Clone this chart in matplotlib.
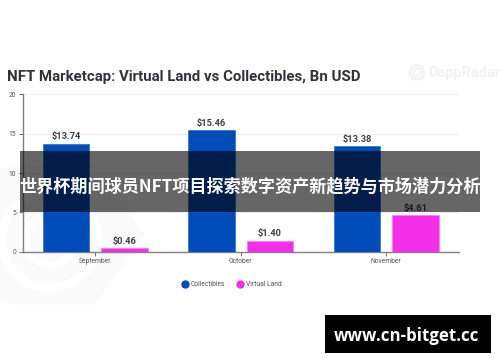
import matplotlib
matplotlib.use("Agg")
import matplotlib.pyplot as plt
from matplotlib.patches import Rectangle, Polygon, Circle, Wedge
import numpy as np

plt.rcParams['font.family'] = ['Roboto', 'Noto Sans CJK SC', 'DejaVu Sans']

months = ['September', 'October', 'November']
collectibles = [13.74, 15.46, 13.38]
virtual_land = [0.46, 1.40, 4.61]
series_names = ['Collectibles', 'Virtual Land']
yticks = [0, 5, 10, 15, 20]
title = 'NFT Marketcap: Virtual Land vs Collectibles, Bn USD'
banner = '世界杯期间球员NFT项目探索数字资产新趋势与市场潜力分析'
site = 'www.cn-bitget.cc'
brand = 'DappRadar'

W, H = 500, 362
BLUE, PINK = '#004CB8', '#F42FEA'
fig = plt.figure(figsize=(W/100, H/100), dpi=100, facecolor='white')

bg = fig.add_axes([0, 0, 1, 1], zorder=0)
bg.set_xlim(0, W); bg.set_ylim(H, 0); bg.axis('off')
wm = '#F3F3F3'
bg.add_patch(Polygon([(-5, 172), (15, 165), (95, 165), (145, 235), (95, 305), (15, 305), (-5, 298)],
                     closed=True, facecolor='#FAFAFA', edgecolor='none'))
bg.add_patch(Circle((50, 240), 48, fill=False, ec='white', lw=6))
bg.add_patch(Wedge((50, 240), 28, 0, 360, width=7, fc='white', ec='none'))
bg.add_patch(Circle((417, 72.5), 7, fill=False, ec=wm, lw=2))
bg.add_patch(Circle((417, 72.5), 3.5, fill=False, ec=wm, lw=1.5))
bg.text(428, 73, brand, fontsize=10.5, color='#F1F1F1', va='center', ha='left', fontweight='bold')

L, R, T, B = 22.5, 459, 94.3, 251.7
ax = fig.add_axes([L/W, 1-B/H, (R-L)/W, (B-T)/H], zorder=1)
ax.patch.set_alpha(0)
x = np.arange(len(months))
width, off = 0.32, 0.2
ax.bar(x-off, collectibles, width, color=BLUE, edgecolor='#2E6FCB', linewidth=0.5, label=series_names[0], zorder=3)
ax.bar(x+off, virtual_land, width, color=PINK, edgecolor='#F77BF0', linewidth=0.5, label=series_names[1], zorder=3)
for xs, vals in ((x-off, collectibles), (x+off, virtual_land)):
    for xi, v in zip(xs, vals):
        ax.text(xi, v+0.3, f'${v:.2f}', ha='center', va='bottom', fontsize=6.7,
                fontweight='bold', color='#3A3F47', zorder=4)
ax.set_xlim(-0.5, 2.5)
ax.set_ylim(0, 20)
ax.set_yticks(yticks)
ax.set_xticks(x, months)
ax.grid(axis='y', color='#EFEFEF', lw=0.8, zorder=0)
ax.set_axisbelow(True)
for s in ('top', 'right'):
    ax.spines[s].set_visible(False)
for s in ('left', 'bottom'):
    ax.spines[s].set_color('#808080'); ax.spines[s].set_linewidth(1.0)
ax.tick_params(axis='both', labelsize=4.9, labelcolor='#555555', color='#555555', length=3, width=0.6, pad=1.5)

hs = [plt.Line2D([], [], marker='o', ls='none', ms=5, color=c) for c in (BLUE, PINK)]
fig.legend(hs, series_names, loc='center', bbox_to_anchor=(230/W, 1-284.5/H), ncol=2, frameon=False,
           fontsize=4.9, labelcolor='#555555', handletextpad=-0.1, columnspacing=1.2)

fig.text(7/W, 1-76.5/H, title, fontsize=10.8, fontweight='bold', color='#30343A', va='center', ha='left', zorder=2)

top = fig.add_axes([0, 0, 1, 1], zorder=5)
top.set_xlim(0, W); top.set_ylim(H, 0); top.axis('off'); top.patch.set_alpha(0)
top.add_patch(Rectangle((20, 151), 460, 61, facecolor='black', alpha=0.6, edgecolor='none'))
top.text(250, 186, banner, color='white', fontsize=12.32, fontweight='bold', ha='center', va='center',
         family=['Noto Sans CJK SC', 'DejaVu Sans'])
top.add_patch(Rectangle((325, 315), 166, 38, facecolor='black', edgecolor='none'))
top.text(407, 336, site, color='white', fontsize=12.2, fontweight='bold', ha='center', va='center',
         family=['Open Sans', 'DejaVu Sans'])

fig.savefig('out.png', dpi=100, facecolor='white')
